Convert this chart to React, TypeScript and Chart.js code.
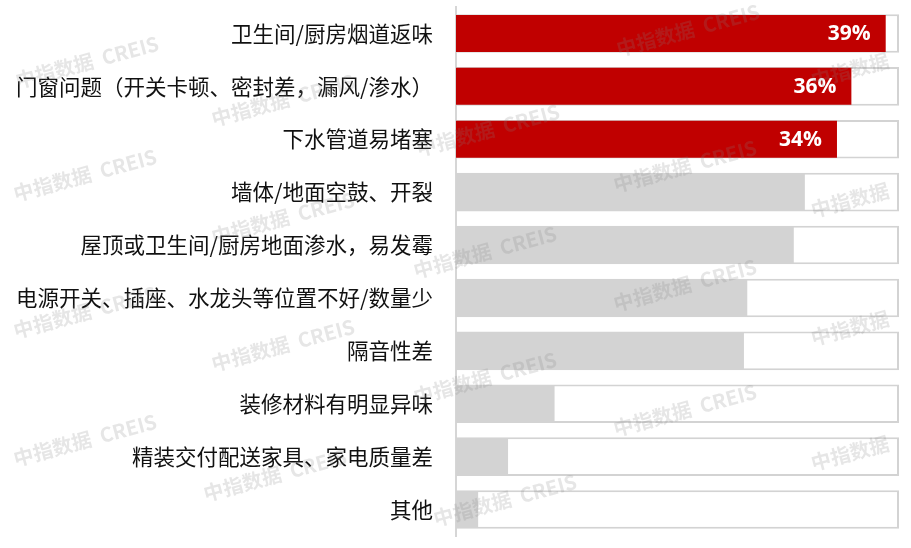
import React, { useEffect, useRef } from "react";
import { Chart, registerables } from "chart.js";

Chart.register(...registerables);

const categories = [
  "卫生间/厨房烟道返味",
  "门窗问题（开关卡顿、密封差，漏风/渗水）",
  "下水管道易堵塞",
  "墙体/地面空鼓、开裂",
  "屋顶或卫生间/厨房地面渗水，易发霉",
  "电源开关、插座、水龙头等位置不好/数量少",
  "隔音性差",
  "装修材料有明显异味",
  "精装交付配送家具、家电质量差",
  "其他",
];
const values = [38.8, 35.7, 34.4, 31.5, 30.5, 26.3, 26.0, 8.9, 4.7, 2.0];
const valueLabels = ["39%", "36%", "34%", "", "", "", "", "", "", ""];
const highlighted = [true, true, true, false, false, false, false, false, false, false];
const trackValues = [40, 40, 40, 40, 40, 40, 40, 40, 40, 40];
const axisMax = 40;

const WM_FULL = "中指数据  CREIS";
const WM_SHORT = "中指数据";
const watermarks: [number, number, string][] = [
  [87, 62, WM_FULL], [85, 175, WM_FULL], [85, 312, WM_FULL], [85, 440, WM_FULL],
  [283, 100, WM_FULL], [283, 218, WM_FULL], [283, 345, WM_FULL], [275, 475, WM_FULL],
  [488, 130, WM_FULL], [485, 252, WM_FULL], [485, 378, WM_FULL], [505, 500, WM_FULL],
  [688, 30, WM_FULL], [685, 166, WM_FULL], [685, 285, WM_FULL], [685, 410, WM_FULL],
  [850, 70, WM_SHORT], [850, 200, WM_SHORT], [850, 328, WM_SHORT], [850, 453, WM_SHORT],
];

const FONT = '"Noto Sans CJK SC", "Noto Sans", sans-serif';

const labelPlugin = {
  id: "valueLabels",
  afterDatasetsDraw(chart: any) {
    const ctx = chart.ctx;
    const meta = chart.getDatasetMeta(0);
    ctx.save();
    ctx.fillStyle = "#ffffff";
    ctx.font = `bold 21px "Open Sans", ${FONT}`;
    ctx.textAlign = "right";
    ctx.textBaseline = "middle";
    meta.data.forEach((bar: any, i: number) => {
      const t = valueLabels[i];
      if (!t) return;
      ctx.fillText(t, bar.x - 15, bar.y + 1);
    });
    ctx.restore();
  },
};

const watermarkPlugin = {
  id: "watermark",
  afterDraw(chart: any) {
    const ctx = chart.ctx;
    ctx.save();
    ctx.fillStyle = "rgba(128,128,128,0.2)";
    ctx.font = `bold 20px ${FONT}`;
    ctx.textAlign = "center";
    ctx.textBaseline = "middle";
    watermarks.forEach(([x, y, t]) => {
      ctx.save();
      ctx.translate(x, y);
      ctx.rotate((-15 * Math.PI) / 180);
      ctx.fillText(t, 0, 0);
      ctx.restore();
    });
    ctx.restore();
  },
};

export default function App() {
  const ref = useRef<HTMLCanvasElement | null>(null);
  useEffect(() => {
    document.body.style.margin = "0";
    const canvas = ref.current!;
    const chart = new Chart(canvas, {
      type: "bar",
      data: {
        labels: categories,
        datasets: [
          {
            data: values,
            backgroundColor: highlighted.map((h) => (h ? "#C00000" : "#D3D3D3")),
            borderWidth: 0,
            grouped: false,
            barPercentage: 0.7,
            categoryPercentage: 1,
          },
          {
            data: trackValues,
            backgroundColor: "#ffffff",
            borderColor: "#D3D3D3",
            borderWidth: 2,
            borderSkipped: false,
            grouped: false,
            barPercentage: 0.73,
            categoryPercentage: 1,
          },
        ],
      },
      options: {
        indexAxis: "y",
        responsive: false,
        animation: false,
        layout: { padding: { top: 7, bottom: 12, right: 12, left: 0 } },
        plugins: { legend: { display: false }, tooltip: { enabled: false } },
        scales: {
          x: { display: false, min: 0, max: axisMax },
          y: {
            grid: { display: false, drawTicks: false },
            border: { display: true, color: "#D6D6D6", width: 2 },
            ticks: {
              padding: 23,
              color: "#111111",
              font: { family: FONT, size: 21.5 },
            },
            afterFit(scale: any) {
              scale.width = 456;
              scale.paddingTop = 0;
              scale.paddingBottom = 0;
            },
          },
        },
      },
      plugins: [labelPlugin, watermarkPlugin],
    } as any);
    return () => chart.destroy();
  }, []);
  return (
    <div style={{ width: 911, height: 548 }}>
      <canvas ref={ref} width={911} height={548} style={{ display: "block" }} />
    </div>
  );
}
